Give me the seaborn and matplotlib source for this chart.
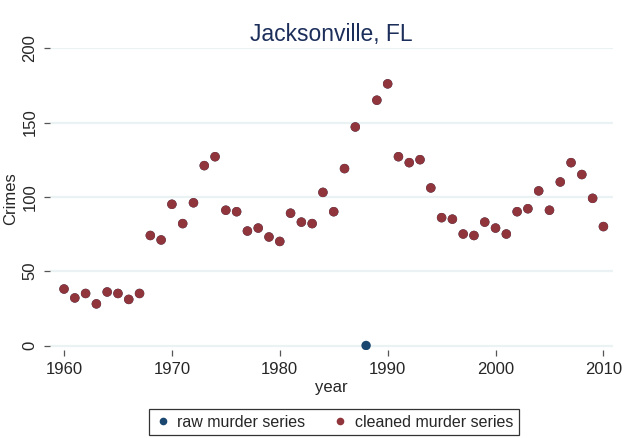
import numpy as np
import pandas as pd
import seaborn as sns
import matplotlib
matplotlib.use("Agg")
import matplotlib.pyplot as plt

# data (1988 missing in the cleaned series)
years = list(range(1960, 2011))
cleaned = [38, 32, 35, 28, 36, 35, 31, 35, 74, 71,
           95, 82, 96, 121, 127, 91, 90, 77, 79, 73,
           70, 89, 83, 82, 103, 90, 119, 147, np.nan, 165,
           176, 127, 123, 125, 106, 86, 85, 75, 74, 83,
           79, 75, 90, 92, 104, 91, 110, 123, 115, 99,
           80]
# raw series equals the cleaned one except for the zero in 1988
raw = [0 if y == 1988 else v for y, v in zip(years, cleaned)]

series_names = ["raw murder series", "cleaned murder series"]
colors = ["#1a476f", "#90353b"]

df = pd.concat([
    pd.DataFrame({"year": years, "Crimes": raw, "series": series_names[0]}),
    pd.DataFrame({"year": years, "Crimes": cleaned, "series": series_names[1]}),
]).dropna()

sns.set_style("white")
plt.rcParams["font.family"] = ["Liberation Sans", "DejaVu Sans"]

fig = plt.figure(figsize=(6.25, 4.38), dpi=100)
ax = fig.add_axes([0.08, 0.201, 0.901, 0.689])

sns.scatterplot(data=df, x="year", y="Crimes", hue="series",
                hue_order=series_names, palette=colors, s=46,
                linewidth=0, ax=ax, legend=False)

ax.set_xlim(1958.7, 2010.9)
ax.set_ylim(-3, 200)
ax.set_xticks(range(1960, 2011, 10))
ax.set_yticks(range(0, 201, 50))
ax.grid(axis="y", color="#eaf2f3", linewidth=1.6)
ax.set_axisbelow(True)
for s in ax.spines.values():
    s.set_visible(False)

ax.tick_params(axis="both", which="both", length=4, width=0.9,
               color="#555555", labelsize=12, direction="out",
               bottom=True, left=True)
ax.tick_params(axis="x", pad=5)
ax.tick_params(axis="y", pad=5)
plt.setp(ax.get_yticklabels(), rotation=90, va="center")
ax.set_xlabel("year", fontsize=12, labelpad=2)
ax.set_ylabel("Crimes", fontsize=12, labelpad=3)
ax.set_title("Jacksonville, FL", fontsize=16.5, color="#1c2e5a", pad=5)

handles = [plt.Line2D([], [], marker="o", linestyle="", markersize=5.5,
                      markerfacecolor=c, markeredgewidth=0) for c in colors]
leg = fig.legend(handles, series_names, loc="lower center", ncol=2,
                 bbox_to_anchor=(0.534, -0.012), fontsize=11.5, frameon=True,
                 fancybox=False, edgecolor="black", handletextpad=0.4,
                 columnspacing=1.7, handlelength=1.0, borderpad=0.35,
                 borderaxespad=0.5)
leg.get_frame().set_linewidth(0.9)

fig.savefig("out.png", dpi=100)
